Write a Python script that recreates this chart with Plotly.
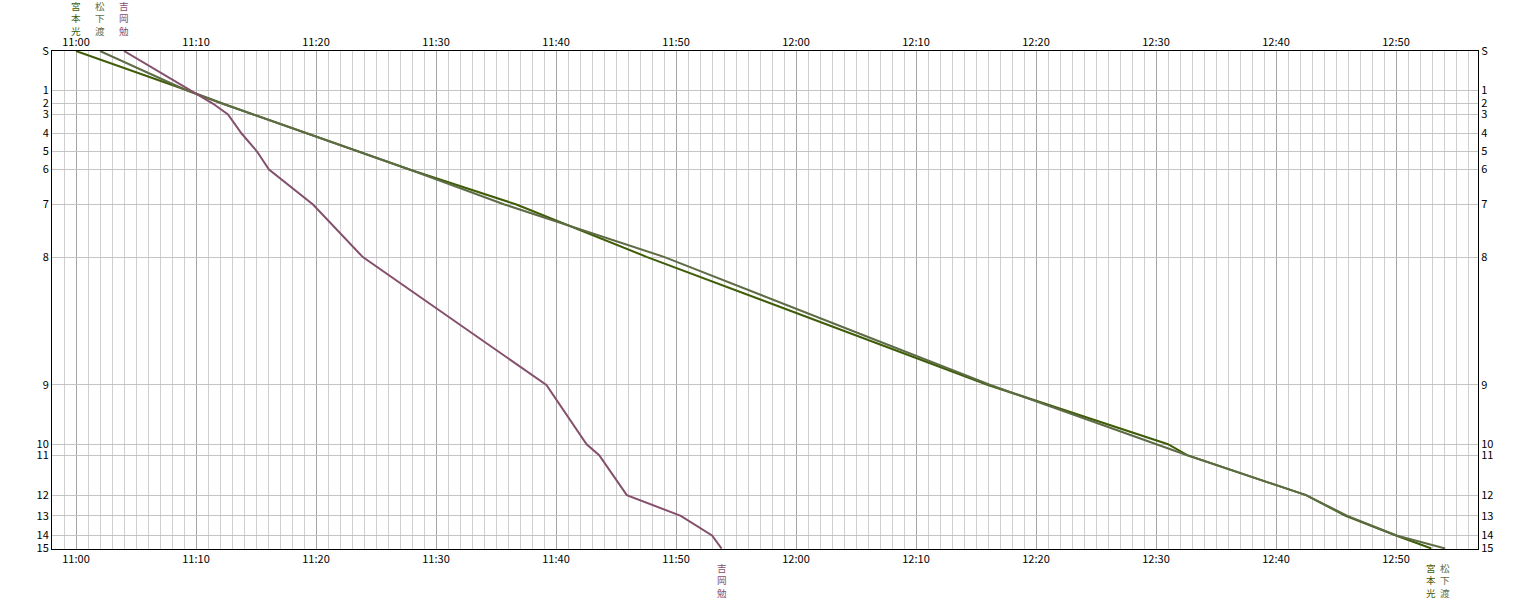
import plotly.graph_objects as go

# ---- data ----
stations = ["S", "1", "2", "3", "4", "5", "6", "7", "8", "9", "10", "11", "12", "13", "14", "15"]
station_km = [0.0, 3.93, 5.26, 6.36, 8.26, 10.06, 11.86, 15.36, 20.63, 33.43,
              39.36, 40.46, 44.46, 46.53, 48.50, 49.80]

runners = ["宮本光", "松下渡", "吉岡勉"]
colors = ["#3f5c06", "#5e6c46", "#84506c"]

miyamoto_times = ["11:00:00", "11:09:15", "11:12:11", "11:14:47", "11:19:17", "11:23:27",
                  "11:27:47", "11:36:42", "11:47:36", "12:16:00", "12:31:00", "12:32:36",
                  "12:42:30", "12:45:48", "12:50:00", "12:52:57"]
matsushita_times = ["11:02:00", "11:09:12", "11:12:12", "11:14:48", "11:19:18", "11:23:27",
                    "11:27:48", "11:35:42", "11:49:03", "12:16:12", "12:29:54", "12:32:36",
                    "12:42:30", "12:45:57", "12:50:03", "12:54:06"]
yoshioka_times = ["11:04:00", "11:09:36", "11:11:24", "11:12:40", "11:13:48", "11:15:05",
                  "11:16:05", "11:19:45", "11:23:54", "11:39:12", "11:42:33", "11:43:36",
                  "11:45:54", "11:50:24", "11:53:00", "11:53:48"]

x_start, x_end = "10:58:00", "12:56:50"
DAY = "2000-01-01 "

all_times = [miyamoto_times, matsushita_times, yoshioka_times]

fig = go.Figure()
for name, col, times in zip(runners, colors, all_times):
    fig.add_trace(go.Scatter(
        x=[DAY + t for t in times], y=station_km, mode="lines", name=name,
        line=dict(color=col, width=2), showlegend=False,
        hovertemplate=name + " %{x|%H:%M:%S}<extra></extra>"))

# helper trace so the mirrored (top/right) axes render
fig.add_trace(go.Scatter(x=[DAY + t for t in miyamoto_times], y=station_km, xaxis="x2",
                         yaxis="y2", mode="lines", line=dict(width=0), opacity=0,
                         hoverinfo="skip", showlegend=False))

tick_font = dict(family="Noto Sans CJK JP", size=11, color="#000000")
xcommon = dict(type="date", range=[DAY + x_start, DAY + x_end], dtick=600000,
               tick0=DAY + "11:00:00", tickformat="%H:%M", tickfont=tick_font,
               ticks="", showline=True, linecolor="#000000", linewidth=1,
               zeroline=False)
ycommon = dict(range=[49.85, 0], tickmode="array", tickvals=station_km, ticktext=stations,
               tickfont=tick_font, ticks="", showline=True, linecolor="#000000",
               linewidth=1, zeroline=False)

fig.update_layout(
    width=1530, height=600, autosize=False,
    margin=dict(l=52, r=52, t=51, b=51),
    paper_bgcolor="#ffffff", plot_bgcolor="#ffffff",
    xaxis=dict(**xcommon, side="bottom", showgrid=True, gridcolor="#a4a4a4", gridwidth=1,
               minor=dict(dtick=60000, showgrid=True, gridcolor="#cfcfcf", gridwidth=1),
               layer="below traces"),
    xaxis2=dict(**xcommon, side="top", overlaying="x", matches="x", showgrid=False),
    yaxis=dict(**ycommon, side="left", showgrid=True, gridcolor="#c4c4c4", gridwidth=1),
    yaxis2=dict(**ycommon, side="right", overlaying="y", matches="y", showgrid=False),
)

# vertical name labels at start (top) and end (bottom) of each runner's line
ann = []
for name, col, times in zip(runners, colors, all_times):
    vertical = "<br>".join(name)
    ann.append(dict(x=DAY + times[0], y=1, xref="x", yref="paper", text=vertical,
                    showarrow=False, yanchor="middle", xanchor="center", yshift=32.5,
                    font=dict(family="Noto Sans CJK JP", size=9.6, color=col)))
    ann.append(dict(x=DAY + times[-1], y=0, xref="x", yref="paper", text=vertical,
                    showarrow=False, yanchor="middle", xanchor="center", yshift=-31,
                    font=dict(family="Noto Sans CJK JP", size=9.6, color=col)))
fig.update_layout(annotations=ann)

fig.write_html("out.html", config={"displayModeBar": False},
               post_script="document.body.style.margin='0px';")
